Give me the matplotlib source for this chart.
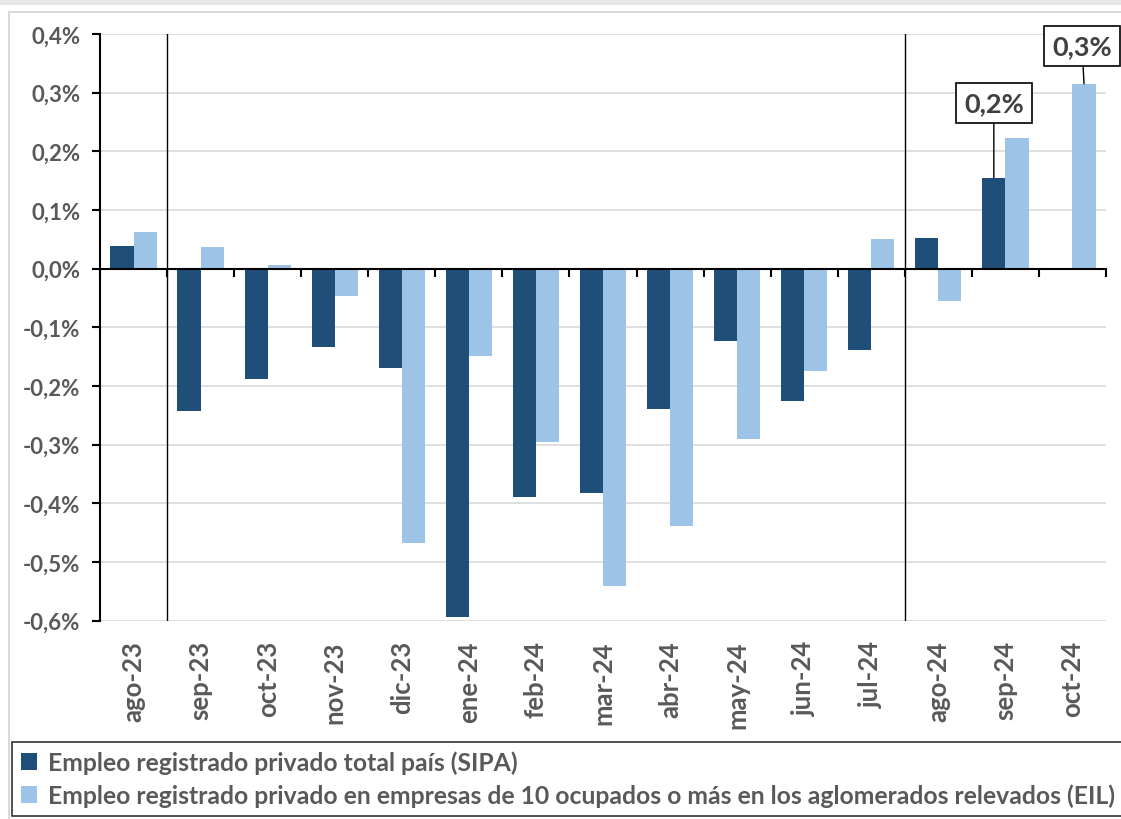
import matplotlib.pyplot as plt
import matplotlib.transforms as mtransforms
from matplotlib.patches import Rectangle
import numpy as np

meses = ['ago-23', 'sep-23', 'oct-23', 'nov-23', 'dic-23', 'ene-24', 'feb-24', 'mar-24',
         'abr-24', 'may-24', 'jun-24', 'jul-24', 'ago-24', 'sep-24', 'oct-24']
sipa = [0.039, -0.243, -0.188, -0.134, -0.170, -0.594, -0.389, -0.382,
        -0.240, -0.123, -0.225, -0.139, 0.052, 0.155, np.nan]
eil = [0.062, 0.037, 0.007, -0.046, -0.468, -0.148, -0.296, -0.541,
       -0.438, -0.290, -0.175, 0.051, -0.055, 0.222, 0.315]
yticks = [-0.6, -0.5, -0.4, -0.3, -0.2, -0.1, 0.0, 0.1, 0.2, 0.3, 0.4]
etiquetas_y = ['-0,6%', '-0,5%', '-0,4%', '-0,3%', '-0,2%', '-0,1%', '0,0%', '0,1%', '0,2%', '0,3%', '0,4%']
nombres = ['Empleo registrado privado total país (SIPA)',
           'Empleo registrado privado en empresas de 10 ocupados o más en los aglomerados relevados (EIL)']

oscuro = '#1f4e79'
claro = '#9dc3e6'
gris = '#595959'
plt.rcParams['font.family'] = ['Lato', 'DejaVu Sans']

fig = plt.figure(figsize=(11.21, 8.20), dpi=100)
W, H = 1121, 820

# fondo: banda gris superior y borde del gráfico
fig.patches.append(Rectangle((0, 1 - 6 / H), 1, 6 / H, transform=fig.transFigure,
                             facecolor='#e6e6e6', edgecolor='none', zorder=-2))
fig.patches.append(Rectangle((9 / W, -0.05), 1.1, 1 - 13 / H + 0.05, transform=fig.transFigure,
                             facecolor='white', edgecolor='#d9d9d9', lw=1.5, zorder=-1))

ax = fig.add_axes([100 / W, 1 - 621.7 / H, (1106 - 100) / W, (621.7 - 35) / H])
ax.patch.set_alpha(0)
x = np.arange(len(meses))
w = 0.345
b1 = ax.bar(x - w / 2, sipa, w, color=oscuro, label=nombres[0], zorder=3)
b2 = ax.bar(x + w / 2, eil, w, color=claro, label=nombres[1], zorder=3)

ax.set_xlim(-0.5, len(meses) - 0.5)
ax.set_ylim(-0.6, 0.4)
ax.set_yticks(yticks)
ax.set_yticklabels(etiquetas_y, fontsize=16, fontweight='bold', color=gris)
ax.yaxis.grid(True, color='#d9d9d9', lw=1.2, zorder=0)
ax.tick_params(axis='y', length=6, width=1.5, color='black', pad=8)

# eje x en el cero con marcas en los límites de categoría
ax.spines['bottom'].set_position(('data', 0))
ax.spines['bottom'].set_linewidth(1.5)
ax.set_xticks(np.arange(-0.5, len(meses), 1.0))
ax.set_xticklabels([])
ax.tick_params(axis='x', length=6, width=1.5, color='black', direction='out')
for s in ['top', 'right']:
    ax.spines[s].set_visible(False)
ax.spines['left'].set_linewidth(1.5)
ax.spines['left'].set_zorder(4)
ax.spines['bottom'].set_zorder(4)

# etiquetas de meses abajo
trans = mtransforms.blended_transform_factory(ax.transData, ax.transAxes)
for i, m in enumerate(meses):
    ax.text(i, -0.033, m, transform=trans, rotation=90, ha='center', va='top',
            fontsize=18.5, fontweight='bold', color=gris)

# líneas verticales separadoras
for xv in [0.5, 11.5]:
    ax.axvline(xv, color='black', lw=1, zorder=4)

# etiquetas con recuadro
cajas = dict(boxstyle='square,pad=0.3', facecolor='white', edgecolor='black', lw=1.2)
ax.annotate('0,2%', xy=(13 - w / 2, sipa[13]), xytext=(13 - w / 2, 0.282),
            ha='center', va='center', fontsize=19.5, fontweight='bold', color='#404040',
            bbox=cajas, arrowprops=dict(arrowstyle='-', color='black', lw=1, shrinkA=0, shrinkB=0))
ax.annotate('0,3%', xy=(14 + w / 2, eil[14]), xytext=(14 + w / 2 - 0.03, 0.379),
            ha='center', va='center', fontsize=19.5, fontweight='bold', color='#404040',
            bbox=cajas, arrowprops=dict(arrowstyle='-', color='black', lw=1, shrinkA=0, shrinkB=0),
            annotation_clip=False)

leg = fig.legend(handles=[b1, b2], labels=nombres, loc='upper left',
                 bbox_to_anchor=(12 / W, 1 - 818 / H, (1125 - 12) / W, 75 / H), mode='expand',
                 frameon=True, fancybox=False, edgecolor='black', fontsize=17.8,
                 handlelength=0.65, handleheight=0.65, handletextpad=0.45, labelspacing=0.38,
                 borderaxespad=0, borderpad=0.35)
leg.get_frame().set_linewidth(1.2)
for t in leg.get_texts():
    t.set_color(gris)
    t.set_fontweight('bold')

fig.savefig('out.png', dpi=100)
